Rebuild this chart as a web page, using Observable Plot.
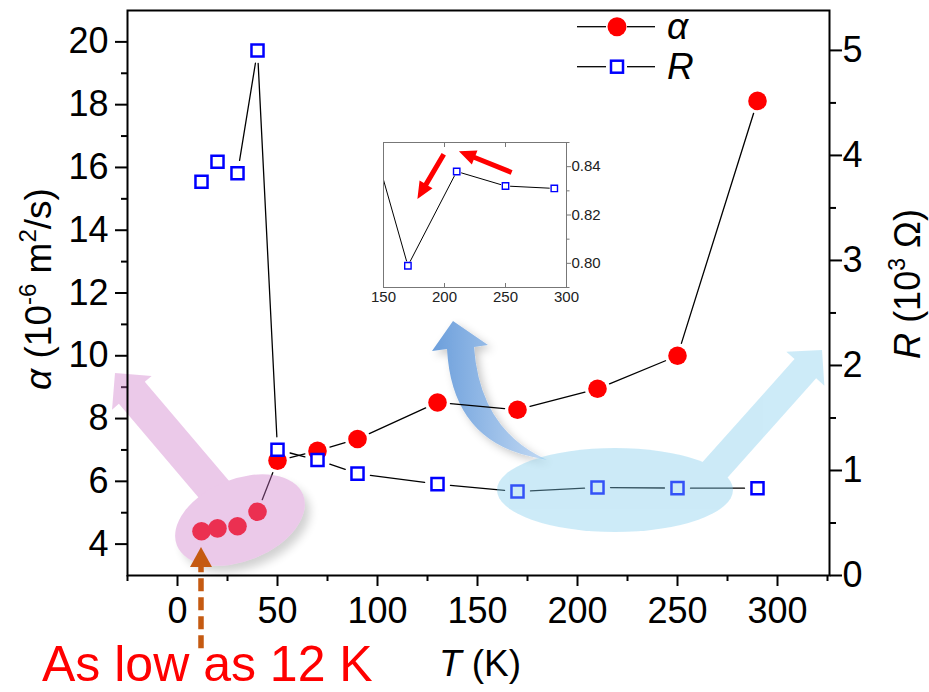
<!DOCTYPE html>
<html><head><meta charset="utf-8">
<script src="https://cdn.jsdelivr.net/npm/d3@7"></script>
<script src="https://cdn.jsdelivr.net/npm/@observablehq/plot@0.6"></script>
<style>
body{margin:0;background:#fff;}
#wrap{position:relative;width:929px;height:692px;overflow:hidden;background:#fff;}
#inset{position:absolute;left:363px;top:132px;}
</style></head>
<body><div id="wrap"><div id="main"></div><div id="inset"></div></div>
<script>
// ---- data ----
const T      = [12, 20, 30, 40, 50, 70, 90, 130, 170, 210, 250, 290];
const alpha  = [4.41, 4.50, 4.57, 5.03, 6.66, 6.97, 7.35, 8.51, 8.28, 8.95, 10.0, 18.12];
const R      = [3.75, 3.94, 3.83, 5.00, 1.197, 1.10, 0.97, 0.87, 0.799, 0.838, 0.832, 0.831];
const xTicks = [0, 50, 100, 150, 200, 250, 300];
const xMinor = [-25, 25, 75, 125, 175, 225, 275, 325];
const aTicks = [4, 6, 8, 10, 12, 14, 16, 18, 20];
const aMinor = [5, 7, 9, 11, 13, 15, 17, 19];
const rTicks = [0, 1, 2, 3, 4, 5];
const rMinor = [0.5, 1.5, 2.5, 3.5, 4.5];
const insetXTicks = [150, 200, 250, 300];
const insetYTicks = [0.80, 0.82, 0.84];
const insetYMinor = [0.79, 0.81, 0.83, 0.85];
const labelNote = "As low as 12 K";

const FONT = "'Liberation Sans', Arial, sans-serif";
const rToA = d3.scaleLinear([0, 5.38], [3, 21]);
const pts = T.map((t, i) => ({t, a: alpha[i], r: rToA(R[i])}));
const segA = d3.pairs(pts).map(([p, q]) => ({x1: p.t, y1: p.a, x2: q.t, y2: q.a}));
const segR = d3.pairs(pts).map(([p, q]) => ({x1: p.t, y1: p.r, x2: q.t, y2: q.r}));

function blockArrow(x0, y0, x1, y1, sw, hl, hw) {
  const dx = x1 - x0, dy = y1 - y0, L = Math.hypot(dx, dy), ux = dx / L, uy = dy / L, nx = -uy, ny = ux;
  const bx = x1 - ux * hl, by = y1 - uy * hl;
  const p = [[x0 + nx * sw / 2, y0 + ny * sw / 2], [bx + nx * sw / 2, by + ny * sw / 2], [bx + nx * hw / 2, by + ny * hw / 2],
             [x1, y1], [bx - nx * hw / 2, by - ny * hw / 2], [bx - nx * sw / 2, by - ny * sw / 2], [x0 - nx * sw / 2, y0 - ny * sw / 2]];
  return "M" + p.map(d => d.join(",")).join("L") + "Z";
}

// under-layer: curved blue arrow
const underMark = (index, s) => {
  const g = d3.create("svg:g");
  const defs = g.append("defs");
  const lg = defs.append("linearGradient").attr("id", "cg").attr("x1", "0").attr("x2", "1").attr("y1", "0").attr("y2", "0");
  lg.append("stop").attr("offset", "0").attr("stop-color", "#6b9edb");
  lg.append("stop").attr("offset", "1").attr("stop-color", "#c3daf4");
  const f = defs.append("filter").attr("id", "sh").attr("x", "-30%").attr("y", "-30%").attr("width", "160%").attr("height", "160%");
  f.append("feDropShadow").attr("dx", 4).attr("dy", 4).attr("stdDeviation", 4).attr("flood-color", "#000").attr("flood-opacity", 0.22);
  const P = (t, a) => [s.x(t), s.y(a)];
  const tip = P(138, 11.09), hl = P(127.5, 10.136), hr = P(155.5, 10.327), sl = P(135, 10.2), sr = P(148.5, 10.264),
        bl = P(178, 6.76), br = P(185, 6.664), cl = P(137.5, 7.30), cr = P(151.5, 7.62);
  const d = `M${sl}Q${cl} ${bl}L${br}Q${cr} ${sr}L${hr}L${tip}L${hl}Z`;
  g.append("path").attr("d", d).attr("fill", "url(#cg)").attr("filter", "url(#sh)");
  return g.node();
};

// overlay: translucent ellipses and fat arrows, brown dashed arrow
const overMark = (index, s) => {
  const g = d3.create("svg:g");
  const defs = g.append("defs");
  const f = defs.append("filter").attr("id", "sh2").attr("x", "-30%").attr("y", "-30%").attr("width", "160%").attr("height", "160%");
  f.append("feGaussianBlur").attr("stdDeviation", 5);
  // blue
  const bc = [s.x(219), s.y(5.708)];
  const bt = [s.x(260), s.y(5.708)], btip = [s.x(322.5), s.y(10.168)];
  const gb = g.append("g").attr("opacity", 0.4).attr("fill", "rgb(130,205,237)");
  gb.append("ellipse").attr("cx", bc[0]).attr("cy", bc[1]).attr("rx", 118).attr("ry", 42);
  gb.append("path").attr("d", blockArrow(bt[0], bt[1], btip[0], btip[1], 29, 25, 51));
  // pink shadow (masked so it only shows outside the ellipse)
  const pc = [s.x(31.5), s.y(4.75)], ptip = [s.x(-31), s.y(9.435)];
  const m = defs.append("mask").attr("id", "pm").attr("maskUnits", "userSpaceOnUse")
    .attr("x", 0).attr("y", 0).attr("width", 929).attr("height", 692);
  m.append("rect").attr("width", 929).attr("height", 692).attr("fill", "white");
  m.append("ellipse").attr("cx", pc[0]).attr("cy", pc[1]).attr("rx", 68).attr("ry", 41)
    .attr("transform", `rotate(-22,${pc[0]},${pc[1]})`).attr("fill", "black");
  g.append("g").attr("mask", "url(#pm)").append("ellipse").attr("cx", pc[0] + 6).attr("cy", pc[1] + 7).attr("rx", 67).attr("ry", 40)
    .attr("transform", `rotate(-22,${pc[0] + 6},${pc[1] + 7})`).attr("fill", "#000").attr("opacity", 0.18).attr("filter", "url(#sh2)");
  const gp = g.append("g").attr("opacity", 0.4).attr("fill", "rgb(207,121,202)");
  gp.append("path").attr("d", blockArrow(pc[0], pc[1], ptip[0], ptip[1], 34, 26, 52));
  gp.append("ellipse").attr("cx", pc[0]).attr("cy", pc[1]).attr("rx", 68).attr("ry", 41)
    .attr("transform", `rotate(-22,${pc[0]},${pc[1]})`);
  // brown dashed arrow pointing to the 12 K point
  const x12 = s.x(T[0]), yb = s.y(0.67), yt = s.y(3.89);
  g.append("line").attr("x1", x12).attr("x2", x12).attr("y1", yb).attr("y2", yt + 18)
    .attr("stroke", "#c55a11").attr("stroke-width", 5.5).attr("stroke-dasharray", "13,6");
  g.append("path").attr("d", `M${x12},${yt}L${x12 + 11},${yt + 20}L${x12 - 11},${yt + 20}Z`).attr("fill", "#c55a11");
  return g.node();
};

// texts, titles, legend
const textMark = () => {
  const g = d3.create("svg:g").attr("font-family", FONT).attr("fill", "black").attr("text-anchor", "start");
  const lt = g.append("text").attr("transform", "translate(51,289) rotate(-90)").attr("text-anchor", "middle").attr("font-size", 37);
  lt.append("tspan").attr("font-style", "italic").text("α");
  lt.append("tspan").text(" (10");
  lt.append("tspan").attr("font-size", 24).attr("dy", -15).text("-6");
  lt.append("tspan").attr("dy", 15).text(" m");
  lt.append("tspan").attr("font-size", 24).attr("dy", -15).text("2");
  lt.append("tspan").attr("dy", 15).text("/s)");
  const rt = g.append("text").attr("transform", "translate(920,284) rotate(-90)").attr("text-anchor", "middle").attr("font-size", 36);
  rt.append("tspan").attr("font-style", "italic").text("R");
  rt.append("tspan").text(" (10");
  rt.append("tspan").attr("font-size", 23).attr("dy", -15).text("3");
  rt.append("tspan").attr("dy", 15).text(" Ω)");
  const xt = g.append("text").attr("x", 480).attr("y", 676).attr("text-anchor", "middle").attr("font-size", 37);
  xt.append("tspan").attr("font-style", "italic").text("T");
  xt.append("tspan").text(" (K)");
  g.append("text").attr("x", 42).attr("y", 681).attr("font-size", 50).attr("fill", "#ff0000").text(labelNote);
  // legend
  const lg = g.append("g");
  [[26.7, "α", "c"], [66.7, "R", "s"]].forEach(([y, lab, k]) => {
    lg.append("line").attr("x1", 577).attr("x2", 606).attr("y1", y).attr("y2", y).attr("stroke", "black").attr("stroke-width", 1.3);
    lg.append("line").attr("x1", 627).attr("x2", 655).attr("y1", y).attr("y2", y).attr("stroke", "black").attr("stroke-width", 1.3);
    if (k === "c") lg.append("circle").attr("cx", 617).attr("cy", y).attr("r", 9.5).attr("fill", "#ff0000");
    else lg.append("rect").attr("x", 611).attr("y", y - 6).attr("width", 12).attr("height", 12).attr("fill", "white").attr("stroke", "#0000ff").attr("stroke-width", 2.5);
    lg.append("text").attr("x", 667).attr("y", y + 12).attr("font-size", 37).attr("font-style", "italic").text(lab);
  });
  return g.node();
};

const plot = Plot.plot({
  width: 929, height: 692,
  marginLeft: 127, marginRight: 100, marginTop: 10, marginBottom: 117,
  style: {fontFamily: FONT, fontSize: "36px", color: "black", background: "transparent"},
  x: {domain: [-25, 326]},
  y: {domain: [3, 21]},
  marks: [
    Plot.axisX(xTicks, {tickSize: 11, tickPadding: 11, strokeWidth: 2, label: null, fontSize: 36}),
    Plot.axisX(xMinor, {tickSize: 6, strokeWidth: 2, text: null, label: null}),
    Plot.axisY(aTicks, {tickSize: 12, tickPadding: 7, strokeWidth: 2, label: null, fontSize: 36}),
    Plot.axisY(aMinor, {tickSize: 6, strokeWidth: 2, text: null, label: null}),
    Plot.axisY(rTicks.map(rToA), {anchor: "right", tickSize: 12, tickPadding: 1, strokeWidth: 2, label: null, fontSize: 36,
      tickFormat: d => String(Math.round(rToA.invert(d)))}),
    Plot.axisY(rMinor.map(rToA), {anchor: "right", tickSize: 6, strokeWidth: 2, text: null, label: null}),
    underMark,
    Plot.arrow(segA, {x1: "x1", y1: "y1", x2: "x2", y2: "y2", inset: 13, headLength: 0, stroke: "black", strokeWidth: 1.3}),
    Plot.arrow(segR, {x1: "x1", y1: "y1", x2: "x2", y2: "y2", inset: 13, headLength: 0, stroke: "black", strokeWidth: 1.3}),
    Plot.dot(pts, {x: "t", y: "a", r: 9.3, fill: "#ff0000"}),
    Plot.dot(pts, {x: "t", y: "r", symbol: "square", r: 6.8, stroke: "#0000ff", strokeWidth: 2.5, fill: "white"}),
    overMark,
    Plot.frame({stroke: "black", strokeWidth: 2}),
    textMark
  ]
});
document.getElementById("main").appendChild(plot);

// ---- inset ----
const ipts = pts.filter(d => d.t >= 130).map(d => ({t: d.t, r: R[T.indexOf(d.t)]}));
const iseg = d3.pairs(ipts).map(([p, q]) => ({x1: p.t, y1: p.r, x2: q.t, y2: q.r}));
const redArrows = (index, s) => {
  const g = d3.create("svg:g").attr("fill", "#ff0000");
  const a1 = [s.x(255.4), s.y(0.8374), s.x(212.2), s.y(0.8462)];
  const a2 = [s.x(199.8), s.y(0.8449), s.x(178.2), s.y(0.8264)];
  g.append("path").attr("d", blockArrow(a1[0], a1[1], a1[2], a1[3], 5, 17, 15));
  g.append("path").attr("d", blockArrow(a2[0], a2[1], a2[2], a2[3], 5, 17, 15));
  return g.node();
};
const inset = Plot.plot({
  width: 253, height: 185,
  marginLeft: 20, marginRight: 50, marginTop: 10, marginBottom: 30,
  style: {fontFamily: FONT, fontSize: "15px", color: "#222", background: "transparent"},
  x: {domain: [150, 300]},
  y: {domain: [0.79, 0.85]},
  marks: [
    Plot.frame({fill: "white", stroke: "none"}),
    Plot.axisX(insetXTicks, {tickSize: 0, tickPadding: 4, label: null, fontSize: 15}),
    Plot.axisX(insetXTicks, {anchor: "top", tickSize: -4, text: null, label: null, stroke: "#777"}),
    Plot.axisX(insetXTicks, {anchor: "bottom", tickSize: -4, text: null, label: null, stroke: "#777"}),
    Plot.axisY(insetYTicks, {anchor: "right", tickSize: 4, tickPadding: 1, label: null, fontSize: 15, stroke: "#777",
      tickFormat: d3.format(".2f")}),
    Plot.axisY(insetYMinor, {anchor: "right", tickSize: 2.5, text: null, label: null, stroke: "#777"}),
    Plot.arrow(iseg, {x1: "x1", y1: "y1", x2: "x2", y2: "y2", inset: 5, headLength: 0, stroke: "black", strokeWidth: 1, clip: true}),
    Plot.dot(ipts, {x: "t", y: "r", symbol: "square", r: 3.6, stroke: "#0000ff", strokeWidth: 1.4, fill: "white", clip: true}),
    redArrows,
    Plot.frame({stroke: "#777", strokeWidth: 1})
  ]
});
document.getElementById("inset").appendChild(inset);
</script>
</body></html>
